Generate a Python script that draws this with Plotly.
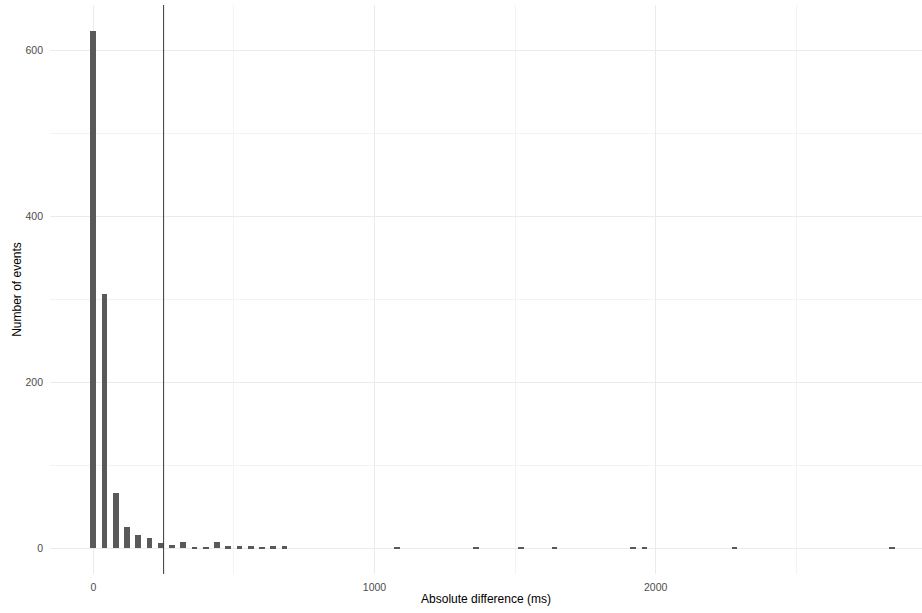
import plotly.graph_objects as go

# Bin centres (ms) and counts
diff_ms = [0, 40, 80, 120, 160, 200, 240, 280, 320, 360, 400, 440, 480, 520, 560,
           600, 640, 680, 1080, 1360, 1520, 1640, 1920, 1960, 2280, 2840]
n_events = [624, 306, 66, 25, 16, 12, 6, 4, 8, 1, 1, 8, 2, 2, 2,
            1, 2, 2, 1, 1, 1, 1, 1, 1, 1, 1]
threshold_ms = 250
x_ticks = [0, 1000, 2000]
y_ticks = [0, 200, 400, 600]

tick_font = dict(family="Liberation Sans, Arial, sans-serif", color="#4D4D4D", size=10.5)
title_font = dict(family="Liberation Sans, Arial, sans-serif", color="black", size=12)

fig = go.Figure()
fig.add_trace(go.Bar(x=diff_ms, y=n_events, width=20,
                     marker=dict(color="#595959", line=dict(width=0)),
                     showlegend=False))
fig.add_vline(x=threshold_ms, line=dict(color="#3a3a3a", width=1))

fig.update_layout(
    template="none",
    width=922, height=613,
    margin=dict(l=50, r=0, t=5, b=39, autoexpand=False),
    plot_bgcolor="white", paper_bgcolor="white",
    font=tick_font,
    bargap=0,
    xaxis=dict(range=[-154, 2947], tickvals=x_ticks, ticktext=[str(v) for v in x_ticks],
               tickfont=tick_font,
               showgrid=True, gridcolor="#EBEBEB", gridwidth=1, automargin=False,
               minor=dict(tickvals=[500, 1500, 2500], showgrid=True, gridcolor="#F3F3F3", gridwidth=1),
               zeroline=False, showline=False, ticks="", ticklabelstandoff=5,
               title=dict(text="Absolute difference (ms)", font=title_font, standoff=3)),
    yaxis=dict(range=[-31.2, 655.2], tickvals=y_ticks, ticktext=[str(v) for v in y_ticks],
               tickfont=tick_font,
               showgrid=True, gridcolor="#EBEBEB", gridwidth=1, automargin=False,
               minor=dict(tickvals=[100, 300, 500], showgrid=True, gridcolor="#F3F3F3", gridwidth=1),
               zeroline=False, showline=False, ticks="", ticklabelstandoff=6,
               title=dict(text="Number of events", font=title_font, standoff=1)),
)
fig.write_html("out.html", config={"displayModeBar": False},
               post_script="document.body.style.margin='0';document.body.style.overflow='hidden';")
